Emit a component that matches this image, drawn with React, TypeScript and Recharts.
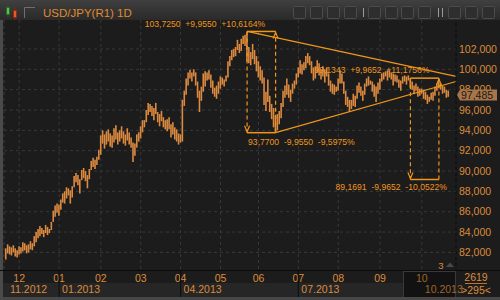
import React from "react";
import {
  ComposedChart,
  Bar,
  XAxis,
  YAxis,
  CartesianGrid,
  ReferenceLine,
  ReferenceDot,
} from "recharts";

// month starts (bar index) and labels
const monthTicks = [7, 28, 50, 71, 92, 113, 133, 154, 175, 197, 219];
const monthLabels = ["12", "01", "02", "03", "04", "05", "06", "07", "08", "09", "10"];
const yearTicks = [-1, 28, 92, 154, 219];
const yearLabels = ["11.2012", "01.2013", "04.2013", "07.2013", "10.2013"];
const priceTicks = [82, 84, 86, 88, 90, 92, 94, 96, 98, 100, 102];

// daily highs / lows, USD/JPY Nov 2012 - Oct 2013
const highs = [
  82.4, 82.8, 82.6, 82.5, 82.7, 82.4, 82.2,
  82.6, 82.5, 83.0, 82.9, 82.7, 82.8, 83.1, 82.9, 83.6, 84.0, 84.3, 84.6, 84.4, 84.2, 84.7, 84.5, 84.3, 85.0, 86.1, 86.6, 86.8,
  86.7, 87.2, 87.8, 88.0, 88.4, 88.3, 88.1, 88.5, 89.5, 89.8, 89.6, 89.2, 90.1, 90.3, 90.0, 89.6, 90.2, 91.0, 91.3, 91.1, 91.4, 92.1,
  93.5, 94.0, 93.6, 93.9, 94.1, 93.7, 93.5, 94.2, 94.5, 93.8, 94.0, 94.4, 93.9, 93.6, 94.2, 93.8, 93.3, 92.8, 92.7, 93.6, 93.8,
  94.4, 95.0, 95.0, 96.0, 96.7, 96.6, 96.4, 96.2, 96.7, 95.8, 95.6, 95.9, 95.3, 95.0, 95.1, 95.3, 94.6, 94.8, 94.3, 94.1, 93.7,
  93.6, 97.0, 97.9, 99.1, 99.7, 99.95, 99.7, 100.0, 99.7, 98.8, 97.9, 98.3, 99.6, 99.8, 99.7, 99.9, 99.5, 98.9, 98.2, 98.4, 98.8,
  99.3, 99.2, 99.0, 99.4, 100.8, 101.3, 101.9, 102.0, 102.2, 102.9, 102.5, 103.0, 103.3, 103.4, 103.725, 102.2, 101.7, 102.5, 101.9, 101.3,
  100.8, 100.3, 99.9, 99.2, 97.8, 99.0, 97.4, 96.6, 96.2, 95.4, 95.6, 95.9, 96.7, 97.9, 98.4, 99.1, 98.5, 98.0, 98.6, 98.9, 99.6,
  100.2, 100.9, 100.5, 100.7, 101.3, 101.6, 101.3, 100.8, 100.2, 100.3, 100.9, 100.6, 100.0, 100.3, 100.0, 100.2, 99.6, 98.9, 98.6, 98.5, 98.3,
  99.1, 99.9, 99.6, 98.8, 97.9, 97.3, 97.0, 97.0, 97.6, 97.4, 98.4, 98.7, 98.3, 97.9, 98.6, 99.1, 99.3, 98.9, 98.8, 98.5, 98.3, 98.7,
  99.1, 99.6, 99.7, 99.8, 99.9, 99.9, 99.7, 99.6, 99.5, 99.4, 99.0, 98.9, 99.3, 99.4, 99.3, 99.4, 99.13, 98.8, 98.4, 98.6, 98.3, 98.1,
  98.1, 98.0, 97.8, 97.5, 97.3, 97.7, 97.8, 98.3, 98.6, 99.0, 98.6, 98.4, 98.3, 98.0, 97.9,
];
const lows = [
  81.3, 81.9, 81.8, 81.7, 82.0, 81.6, 81.5,
  81.8, 81.9, 82.1, 82.2, 81.9, 82.0, 82.3, 82.2, 82.6, 83.0, 83.4, 83.6, 83.8, 83.5, 83.9, 83.7, 83.9, 84.2, 85.0, 85.5, 85.9,
  85.6, 86.2, 86.9, 86.8, 87.3, 87.6, 86.8, 87.4, 88.4, 88.9, 88.6, 87.8, 89.1, 89.3, 89.0, 88.3, 89.2, 90.1, 90.4, 90.2, 90.6, 91.1,
  91.6, 92.7, 92.2, 92.6, 92.9, 92.4, 92.3, 92.8, 93.1, 92.6, 92.9, 93.2, 92.7, 92.5, 93.0, 92.6, 92.3, 90.9, 91.5, 92.3, 92.9,
  93.2, 93.8, 94.3, 94.8, 95.5, 95.8, 95.4, 95.0, 95.6, 94.8, 94.4, 94.9, 94.3, 94.1, 93.9, 94.1, 93.3, 93.6, 93.1, 92.9, 92.6,
  92.8, 92.9, 96.4, 97.5, 98.4, 99.1, 98.8, 99.3, 98.4, 97.2, 95.8, 96.9, 97.8, 98.3, 98.9, 99.0, 98.2, 97.6, 97.3, 97.1, 97.6,
  98.1, 98.5, 98.3, 98.8, 99.2, 100.3, 100.9, 101.2, 101.3, 101.9, 101.6, 101.8, 102.5, 102.3, 100.8, 100.6, 100.4, 101.0, 100.5, 99.8,
  99.2, 98.9, 98.6, 96.5, 95.9, 96.8, 95.8, 95.1, 94.3, 93.77, 94.0, 94.6, 95.2, 96.3, 97.2, 97.5, 97.2, 96.8, 97.6, 98.1, 98.5,
  99.2, 99.6, 99.5, 99.9, 100.1, 100.6, 100.4, 99.6, 98.9, 99.1, 99.7, 99.4, 99.0, 99.3, 98.7, 99.3, 98.4, 97.8, 97.6, 97.5, 97.8,
  97.9, 98.6, 98.6, 97.6, 96.5, 96.3, 95.8, 96.1, 96.4, 96.3, 97.1, 97.7, 97.4, 96.9, 97.5, 98.3, 98.4, 98.5, 97.8, 97.3, 96.8, 97.6,
  98.0, 98.8, 99.0, 99.3, 98.9, 99.2, 99.0, 98.4, 98.8, 98.7, 98.2, 97.9, 98.6, 98.8, 98.5, 98.9, 98.2, 98.0, 97.6, 97.9, 97.3, 97.4,
  97.6, 97.1, 97.0, 96.6, 96.8, 97.0, 96.9, 97.4, 97.9, 98.2, 98.0, 97.6, 97.7, 97.2, 97.3,
];
const lastPrice = 97.485;

// swing annotations: [start index, end index, top price, bottom price]
const swingDown = [127, 142, 103.725, 93.77];
const swingProj = [213, 228, 99.1343, 89.1691];
// triangle: [x1, y1, x2, y2]
const triUpper = [127, 103.725, 237, 99.3];
const triLower = [142, 93.77, 237, 98.8];
const labelTop = "103,7250  +9,9550  +10,6164%";
const labelLow = "93,7700  -9,9550  -9,5975%";
const labelProjTop = "99,1343  +9,9652  +11,1756%";
const labelProjLow = "89,1691  -9,9652  -10,0522%";

const data = highs.map((h, i) => ({ i, range: [lows[i], h] }));

const ORANGE = "#f0961c";
const BAR = "#dc8a40";
const AXIS_TEXT = "#dc8b3b";
const DIM_TEXT = "#a0652c";
const FONT = '"Liberation Sans Narrow", "Liberation Sans", Arial, sans-serif';
const ANNO_FONT = '"Liberation Sans", Arial, sans-serif';
const Y_DOMAIN = [80.27, 104.85];
const fmt = (v: number) => v.toFixed(3).replace(".", ",");

function MonthTick(props: any) {
  const { x, y, payload } = props;
  const k = monthTicks.indexOf(payload.value);
  const label = monthLabels[k];
  return (
    <text x={x} y={y + 11.7} textAnchor="middle" fill={label === "10" ? DIM_TEXT : AXIS_TEXT} fontSize={10.5} fontFamily={FONT}>
      {label}
    </text>
  );
}

function YearTick(props: any) {
  const { x, y, payload } = props;
  const k = yearTicks.indexOf(payload.value);
  const first = k === 0;
  const last = k === yearTicks.length - 1;
  return (
    <g>
      {!first && !last && <line x1={x} x2={x} y1={y - 12} y2={y + 14} stroke="#0e0e0e" />}
      <text x={first ? x + 6 : x + 3} y={y + 10.3} fill={last ? DIM_TEXT : AXIS_TEXT} fontSize={10.5} fontFamily={FONT}>
        {yearLabels[k]}
      </text>
    </g>
  );
}

// price axis labels; the last price gets a tag drawn on top of the labels
function PriceTick(props: any) {
  const { x, y, payload } = props;
  if (payload.value === lastPrice) {
    const l = x - 2;
    return (
      <g>
        <polygon
          points={`${l},${y} ${l + 3},${y - 5.5} ${l + 40},${y - 5.5} ${l + 40},${y + 5.5} ${l + 3},${y + 5.5}`}
          fill="#a87548"
        />
        <text x={l + 4} y={y + 3.8} fill="#1a1a1a" fontSize={10.5} fontFamily={FONT}>
          {fmt(lastPrice)}
        </text>
      </g>
    );
  }
  return (
    <text x={x} y={y + 3.7} fill={AXIS_TEXT} fontSize={10.5} fontFamily={FONT}>
      {fmt(payload.value)}
    </text>
  );
}

const arrow = (dir: number) => (p: any) => (
  <polyline
    points={`${p.cx - 2.5},${p.cy - dir * 7} ${p.cx},${p.cy - dir} ${p.cx + 2.5},${p.cy - dir * 7}`}
    fill="none"
    stroke={ORANGE}
    strokeWidth={1.2}
  />
);

const textAt = (txt: string, dx: number, dy: number, anchor: string) => (p: any) => (
  <text
    x={p.cx + dx}
    y={p.cy + dy}
    textAnchor={anchor}
    fill={ORANGE}
    fontSize={8.6}
    fontFamily={ANNO_FONT}
    style={{ whiteSpace: "pre" }}
  >
    {txt}
  </text>
);

export default function App() {
  const ax = { xAxisId: "m", yAxisId: "p" };
  const swings = [swingDown, swingProj];
  return (
    <div style={{ position: "absolute", left: 0, top: 0, width: 500, height: 300, background: "#1c1c1c", overflow: "hidden" }}>
      <div style={{ position: "absolute", left: 0, top: 283, width: 456, height: 14, background: "#262626" }} />
      <div style={{ position: "absolute", left: 403, top: 271, width: 51, height: 25, background: "#121212", border: "1px solid #393939" }} />
      <div style={{ position: "absolute", left: 0, top: 297, width: 500, height: 3, background: "#474747" }} />
      <div style={{ position: "absolute", left: 0, top: 20, width: 3, height: 280, background: "#4a4a4a" }} />
      <div style={{ position: "absolute", left: 0, top: 270, width: 500, height: 1, background: "#0b0b0b" }} />
      <div style={{ position: "absolute", left: 0, top: 0 }}>
        <ComposedChart width={500} height={300} data={data} margin={{ top: 20, right: 0, bottom: 3, left: 4 }}>
          <CartesianGrid {...ax} stroke="#383838" strokeDasharray="3 3" horizontalValues={priceTicks} />
          <XAxis
            xAxisId="m"
            type="number"
            dataKey="i"
            domain={[-1, 237]}
            allowDataOverflow
            ticks={monthTicks}
            interval={0}
            height={13}
            tickSize={0}
            tickMargin={0}
            axisLine={false}
            tick={(p: any) => <MonthTick {...p} />}
          />
          <XAxis
            xAxisId="y"
            type="number"
            dataKey="i"
            domain={[-1, 237]}
            allowDataOverflow
            ticks={yearTicks}
            interval={0}
            height={14}
            tickSize={0}
            tickMargin={0}
            axisLine={false}
            tick={(p: any) => <YearTick {...p} />}
          />
          <YAxis
            yAxisId="p"
            orientation="right"
            type="number"
            domain={Y_DOMAIN}
            allowDataOverflow
            ticks={[...priceTicks, lastPrice]}
            interval={0}
            width={44}
            tickSize={0}
            tickMargin={3}
            axisLine={{ stroke: "#0b0b0b" }}
            tick={(p: any) => <PriceTick {...p} />}
          />
          <Bar {...ax} dataKey="range" fill={BAR} barSize={1.6} isAnimationActive={false} />

          <ReferenceLine {...ax} segment={[{ x: triUpper[0], y: triUpper[1] }, { x: triUpper[2], y: triUpper[3] }]} stroke={ORANGE} strokeWidth={1.2} />
          <ReferenceLine {...ax} segment={[{ x: triLower[0], y: triLower[1] }, { x: triLower[2], y: triLower[3] }]} stroke={ORANGE} strokeWidth={1.2} />
          {swings.map((s, k) => [
            <ReferenceLine key={`t${k}`} {...ax} segment={[{ x: s[0], y: s[2] }, { x: s[1], y: s[2] }]} stroke={ORANGE} strokeWidth={1.5} />,
            <ReferenceLine key={`b${k}`} {...ax} segment={[{ x: s[0], y: s[3] }, { x: s[1], y: s[3] }]} stroke={ORANGE} strokeWidth={1.5} />,
            <ReferenceLine key={`l${k}`} {...ax} segment={[{ x: s[0], y: s[2] }, { x: s[0], y: s[3] }]} stroke={ORANGE} strokeWidth={1.2} strokeDasharray="4 3" />,
            <ReferenceLine key={`r${k}`} {...ax} segment={[{ x: s[1], y: s[3] }, { x: s[1], y: s[2] }]} stroke={ORANGE} strokeWidth={1.2} strokeDasharray="4 3" />,
            <ReferenceDot key={`ad${k}`} {...ax} x={s[0]} y={s[3]} shape={arrow(1)} />,
            <ReferenceDot key={`au${k}`} {...ax} x={s[1]} y={s[2]} shape={arrow(-1)} />,
          ])}
          <ReferenceDot {...ax} x={swingDown[0]} y={swingDown[2]} shape={textAt(labelTop, 18, -4.5, "end")} />
          <ReferenceDot {...ax} x={swingDown[0]} y={swingDown[3]} shape={textAt(labelLow, 1, 12, "start")} />
          <ReferenceDot {...ax} x={swingProj[0]} y={swingProj[2]} shape={textAt(labelProjTop, 19, -5, "end")} />
          <ReferenceDot {...ax} x={swingProj[1]} y={swingProj[3]} shape={textAt(labelProjLow, 8, 11, "end")} />
        </ComposedChart>
      </div>

      <svg width={500} height={300} style={{ position: "absolute", left: 0, top: 0, pointerEvents: "none" }}>
        <text x={441} y={268.5} textAnchor="middle" fill={AXIS_TEXT} fontSize={9.5} fontFamily={FONT}>3</text>
        <polygon points="446,267 450,262.5 454,267" fill="#4a4a4a" />
        <text x={476} y={281} textAnchor="middle" fill={AXIS_TEXT} fontSize={10.5} fontFamily={FONT}>2619</text>
        <line x1={465} x2={487} y1={283.5} y2={283.5} stroke="#b8762f" />
        <text x={476} y={294} textAnchor="middle" fill={AXIS_TEXT} fontSize={10.5} fontFamily={FONT}>{">295<"}</text>
      </svg>

      <div style={{ position: "absolute", left: 0, top: 0, width: 500, height: 20, background: "linear-gradient(#404040, #333 55%, #2a2a2a)" }}>
        <svg width={500} height={20}>
          <line x1={8} x2={8} y1={5} y2={17} stroke="#2a5a2a" />
          <rect x={6.5} y={7.5} width={3} height={7} fill="#55c24a" stroke="#2d6a28" />
          <line x1={15} x2={15} y1={7} y2={21} stroke="#7a2a10" />
          <rect x={13.5} y={10.5} width={3} height={7} fill="#ee5a1e" stroke="#8a2e10" />
          <polyline points="35,7.5 24.5,7.5 24.5,18" fill="none" stroke="#6e6e6e" />
          <text x={43} y={17} fill="#e08a2c" fontSize={11.5} fontFamily={FONT}>USD/JPY(R1)</text>
          <text x={117} y={17} fill="#e08a2c" fontSize={11.5} fontFamily={FONT}>1D</text>
          {[293, 310, 327, 344, 368, 385, 401, 418, 448, 465, 482].map((x) => (
            <rect key={x} x={x + 0.5} y={6.5} width={12} height={12} fill="#2e2e2e" stroke="#4c4c4c" rx={1} />
          ))}
          <line x1={363.5} x2={363.5} y1={8} y2={17} stroke="#9a9a9a" />
          <line x1={438.5} x2={438.5} y1={8} y2={17} stroke="#9a9a9a" />
          <line x1={442.5} x2={442.5} y1={8} y2={17} stroke="#9a9a9a" />
        </svg>
      </div>
    </div>
  );
}
